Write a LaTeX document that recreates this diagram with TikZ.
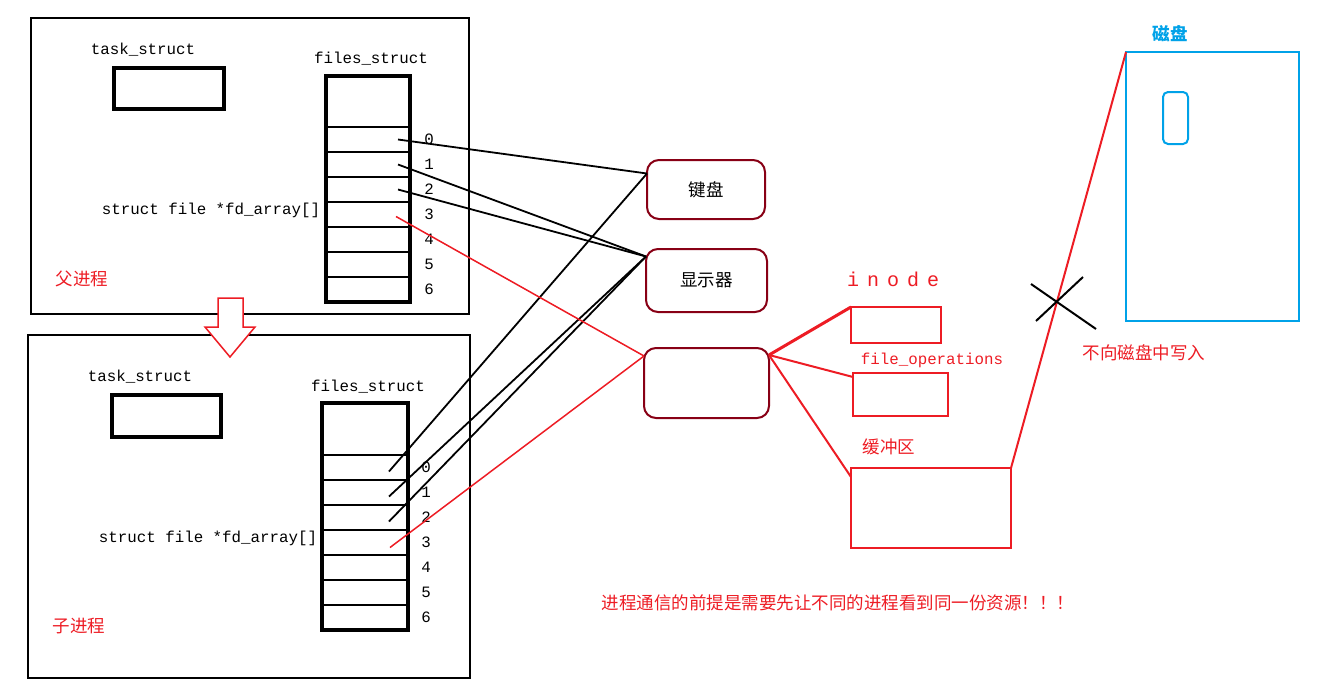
\documentclass[tikz,border=0pt]{standalone}
\usepackage{fontspec}
\setmonofont{Liberation Mono}
\newfontfamily\cjk{Noto Sans CJK SC}
\definecolor{pred}{RGB}{237,28,36}
\definecolor{dred}{RGB}{136,0,21}
\definecolor{dblue}{RGB}{0,162,232}
\tikzset{
  mono/.style={font=\ttfamily\fontsize{15.8}{18}\selectfont, inner sep=0pt},
  zh/.style={font=\cjk\fontsize{17.5}{20}\selectfont, inner sep=0pt},
  proc/.style={draw, line width=2pt, inner sep=0pt, outer sep=0pt},
  thickbox/.style={draw, line width=4pt, inner sep=0pt, outer sep=0pt},
  cell/.style={draw, line width=2pt, inner sep=0pt, outer sep=0pt},
  dev/.style={draw=dred, line width=2pt, rounded corners=12pt, inner sep=0pt, outer sep=0pt, zh},
  rbox/.style={draw=pred, line width=2pt, inner sep=0pt, outer sep=0pt},
  link/.style={line width=1.8pt},
  rlink/.style={pred, line width=1.5pt}
}
\begin{document}
\begin{tikzpicture}[x=1pt,y=-1pt]
    \useasboundingbox (0,0) rectangle (1336,696);

    % 父进程
    \node[proc, minimum width=438, minimum height=296] (parent) at (250,166) {};
    \node[mono] (ptasklbl) at (143,50) {task\_struct};
    \node[thickbox, minimum width=110, minimum height=41] (ptask) at (169,88.5) {};
    \node[mono] (pfileslbl) at (371,59) {files\_struct};
    \node[mono] (parrlbl) at (211,210) {struct file *fd\_array[]};
    \node[zh, text=pred] (plbl) at (82,279) {父进程};
    \node[cell, minimum width=84, minimum height=51] (phead) at (368,101.5) {};
    \foreach \i in {0,...,6}{
        \node[cell, minimum width=84, minimum height=25] (pc\i) at (368,139.5+25*\i) {};
        \node[mono] (pn\i) at (429,139.5+25*\i) {\i};
    }
    \draw[line width=4pt] (phead.north west) rectangle (pc6.south east);

    % 子进程
    \node[proc, minimum width=442, minimum height=343] (child) at (249,506.5) {};
    \node[mono] (ctasklbl) at (140,377) {task\_struct};
    \node[thickbox, minimum width=109, minimum height=42] (ctask) at (166.5,416) {};
    \node[mono] (cfileslbl) at (368,387) {files\_struct};
    \node[mono] (carrlbl) at (208,538) {struct file *fd\_array[]};
    \node[zh, text=pred] (clbl) at (79,626) {子进程};
    \node[cell, minimum width=86, minimum height=52] (chead) at (365,429) {};
    \foreach \i in {0,...,6}{
        \node[cell, minimum width=86, minimum height=25] (cc\i) at (365,467.5+25*\i) {};
        \node[mono] (cn\i) at (426,467.5+25*\i) {\i};
    }
    \draw[line width=4pt] (chead.north west) rectangle (cc6.south east);

    % fork
    \draw[pred, line width=1.5pt, fill=white] (218,298) -- (243,298) -- (243,327) -- (255,327)
        -- (230,357) -- (205,327) -- (218,327) -- cycle;

    % 设备
    \node[dev, minimum width=118, minimum height=59] (kbd) at (706,189.5) {键盘};
    \node[dev, minimum width=121, minimum height=63] (scr) at (706.5,280.5) {显示器};
    \node[dev, minimum width=125, minimum height=70] (fil) at (706.5,383) {};
    \coordinate (kbdin) at ([yshift=16pt]kbd.west);
    \coordinate (scrin) at ([yshift=24pt]scr.west);
    \coordinate (filin) at ([yshift=27pt]fil.west);
    \coordinate (filout) at ([yshift=28pt]fil.east);

    % fd -> 文件
    \foreach \i/\dst in {0/kbdin,1/scrin,2/scrin}{
        \draw[link] ([xshift=-12pt]pc\i.east) -- (\dst);
        \draw[link] ([xshift=-19pt,yshift=-4pt]cc\i.east) -- (\dst);
    }
    \draw[rlink] ([xshift=-14pt,yshift=-2pt]pc3.east) -- (filin);
    \draw[rlink] ([xshift=-18pt,yshift=-5pt]cc3.east) -- (filin);

    % struct file
    \node[rbox, minimum width=90, minimum height=36] (inode) at (896,325) {};
    \node[mono, text=pred, font=\ttfamily\fontsize{20}{22}\selectfont] (inodelbl) at (893,279)
        {i\hspace{8pt}n\hspace{8pt}o\hspace{8pt}d\hspace{8pt}e};
    \node[rbox, minimum width=95, minimum height=43] (fops) at (900.5,394.5) {};
    \node[mono, text=pred] (fopslbl) at (932,360) {file\_operations};
    \node[rbox, minimum width=160, minimum height=80] (buf) at (931,508) {};
    \node[zh, text=pred] (buflbl) at (889,447) {缓冲区};
    \draw[pred, line width=3pt] (filout) -- (inode.north west);
    \draw[pred, line width=2pt] (filout) -- ([yshift=-4pt]fops.north west);
    \draw[pred, line width=2pt] (filout) -- ([yshift=-9pt]buf.north west);

    % 磁盘
    \node[draw=dblue, line width=2.5pt, inner sep=0pt, outer sep=0pt, minimum width=173, minimum height=269] (disk) at (1212.5,186.5) {};
    \node[zh, text=dblue, font=\cjk\bfseries\fontsize{17.5}{20}\selectfont] (disklbl) at (1170,34) {磁盘};
    \node[draw=dblue, line width=2pt, rounded corners=5pt, inner sep=0pt, minimum width=25, minimum height=52] (sector) at (1175.5,118) {};
    \draw[pred, line width=2pt] (buf.north east) -- (disk.north west);

    % 叉
    \draw[line width=2pt] (1031,284) -- (1096,329);
    \draw[line width=2pt] (1036,321) -- (1083,277);
    \node[zh, text=pred] (nowrite) at (1144,353) {不向磁盘中写入};

    \node[zh, text=pred] (note) at (838,603) {进程通信的前提是需要先让不同的进程看到同一份资源！！！};
\end{tikzpicture}
\end{document}
